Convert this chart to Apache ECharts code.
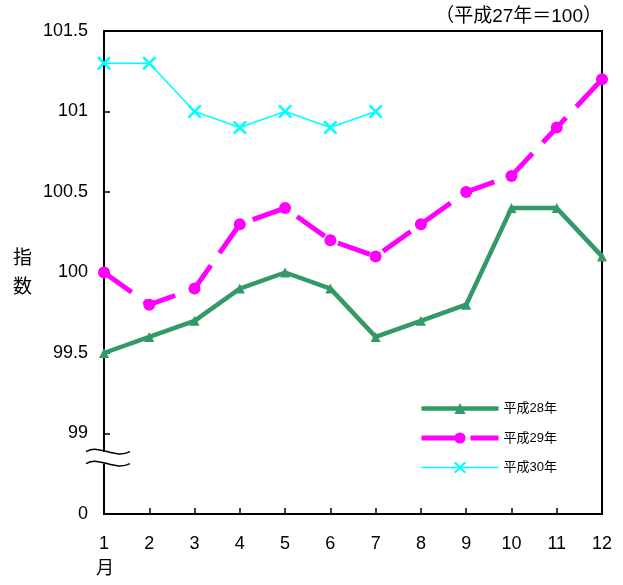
<!DOCTYPE html>
<html><head><meta charset="utf-8">
<script src="https://cdn.jsdelivr.net/npm/echarts@6/dist/echarts.min.js"></script>
<style>html,body{margin:0;padding:0;background:#fff}#c{width:623px;height:585px}</style>
</head><body><div id="c"></div>
<script>
const months = ['1','2','3','4','5','6','7','8','9','10','11','12'];
const h28 = [99.5, 99.6, 99.7, 99.9, 100.0, 99.9, 99.6, 99.7, 99.8, 100.4, 100.4, 100.1];
const h29 = [100.0, 99.8, 99.9, 100.3, 100.4, 100.2, 100.1, 100.3, 100.5, 100.6, 100.9, 101.2];
const h30 = [101.3, 101.3, 101.0, 100.9, 101.0, 100.9, 101.0];
const seriesNames = ['平成28年', '平成29年', '平成30年'];
const yMin = 98.5, yMax = 101.5, yStep = 0.5;

const FONT = '"Liberation Sans", "Noto Sans CJK JP", sans-serif';
const xSym = 'path://M0,0 L1.4,0 L5,3.6 L8.6,0 L10,0 L10,1.4 L6.4,5 L10,8.6 L10,10 L8.6,10 L5,6.4 L1.4,10 L0,10 L0,8.6 L3.6,5 L0,1.4 Z';
const GREEN = '#339966', MAG = '#ff00ff', CYAN = '#00ffff';
const DASH = [34, 15];

const chart = echarts.init(document.getElementById('c'), null, {renderer: 'canvas'});
chart.setOption({
  animation: false,
  backgroundColor: '#fff',
  textStyle: {fontFamily: FONT},
  grid: {left: 104, right: 21, top: 31, bottom: 71, show: true, borderColor: '#000', borderWidth: 2, backgroundColor: 'transparent'},
  legend: {
    orient: 'vertical', left: 419, top: 402, itemWidth: 77, itemHeight: 14, itemGap: 16.5,
    textStyle: {fontSize: 13, color: '#000', fontFamily: FONT}, padding: 0,
    data: [
      {name: seriesNames[0], lineStyle: {width: 4.5, color: GREEN}},
      {name: seriesNames[1], lineStyle: {width: 5, color: MAG, type: DASH}},
      {name: seriesNames[2], lineStyle: {width: 1.6, color: CYAN}}
    ]
  },
  xAxis: {
    type: 'category', data: months, boundaryGap: false,
    axisLine: {lineStyle: {color: '#000', width: 2}},
    axisTick: {inside: true, length: 6, lineStyle: {color: '#000', width: 1.5}},
    axisLabel: {fontSize: 18, color: '#000', margin: 21, fontFamily: FONT},
    splitLine: {show: false}
  },
  yAxis: {
    type: 'value', min: yMin, max: yMax, interval: yStep,
    axisLine: {show: true, lineStyle: {color: '#000', width: 2}},
    axisTick: {show: true, inside: true, length: 6, lineStyle: {color: '#000', width: 1.5}},
    axisLabel: {fontSize: 18, color: '#000', margin: 16, fontFamily: FONT,
      formatter: v => Math.abs(v - yMin) < 1e-9 ? '0' : String(+v.toFixed(1))},
    splitLine: {show: false}
  },
  series: [
    {name: seriesNames[0], type: 'line', data: h28, symbol: 'triangle', symbolSize: 10,
     itemStyle: {color: GREEN}, lineStyle: {color: GREEN, width: 4.5}},
    {name: seriesNames[1], type: 'line', data: h29, symbol: 'circle', symbolSize: 12,
     itemStyle: {color: MAG}, lineStyle: {color: MAG, width: 5, type: DASH}},
    {name: seriesNames[2], type: 'line', data: h30, symbol: xSym, symbolSize: 13,
     itemStyle: {color: CYAN}, lineStyle: {color: CYAN, width: 1.6}}
  ]
});

// axis break decoration + texts
const yb = chart.convertToPixel({yAxisIndex: 0}, 98.85);
const xa = chart.convertToPixel({xAxisIndex: 0}, 0);
function wave(dy) {
  return {type: 'bezierCurve', shape: {x1: xa - 18, y1: yb + dy, cpx1: xa - 4, cpy1: yb + dy - 8, cpx2: xa + 10, cpy2: yb + dy + 8, x2: xa + 26, y2: yb + dy},
    style: {stroke: '#000', lineWidth: 1.5, fill: null}, z: 100};
}
chart.setOption({
  graphic: [
    {type: 'rect', shape: {x: xa - 3, y: yb - 6, width: 6, height: 12}, style: {fill: '#fff'}, z: 99},
    wave(-6), wave(6),
    {type: 'text', right: 21, top: 7, style: {text: '（平成27年＝100）', fill: '#000', font: '19px ' + FONT}},
    {type: 'text', left: 13, top: 244, style: {text: '指\n数', lineHeight: 29, fill: '#000', font: '19px ' + FONT}},
    {type: 'text', left: xa - 8, top: 560, style: {text: '月', fill: '#000', font: '18px ' + FONT}}
  ]
});
</script></body></html>
